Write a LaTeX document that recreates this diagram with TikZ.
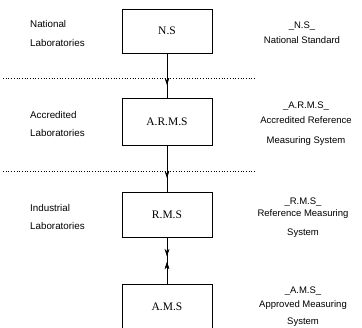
\documentclass[tikz,border=0pt]{standalone}
\usepackage{fontspec}
\setmainfont{Liberation Sans}
\newfontfamily\boxfont{Liberation Serif}
\usetikzlibrary{arrows.meta,decorations.markings}
\begin{document}
\begin{tikzpicture}[x=1pt,y=-1pt,
  stdbox/.style={draw,line width=0.8pt,minimum width=90pt,inner sep=0pt,font=\boxfont\fontsize{11.5}{13}\selectfont},
  lbl/.style={align=left,font=\fontsize{9.8}{18.5}\selectfont,inner sep=0pt},
  rlbl/.style={align=center,font=\fontsize{9.5}{18}\selectfont,inner sep=0pt},
  sep/.style={dotted,line width=0.7pt},
  midarrow/.style={decoration={markings,mark=at position #1 with {\arrow{Stealth[length=7pt,width=4.5pt]}}},postaction={decorate}},
  midback/.style={decoration={markings,mark=at position #1 with {\arrowreversed{Stealth[length=7pt,width=4.5pt]}}},postaction={decorate}},
  conn/.style={line width=0.8pt}]
\useasboundingbox (0,0) rectangle (362,328);
\clip (0,0) rectangle (362,328);
% boxes
\node[stdbox,minimum height=44pt] (ns) at (167,31) {N.S};
\node[stdbox,minimum height=47pt] (arms) at (167,121.5) {A.R.M.S};
\node[stdbox,minimum height=45pt] (rms) at (167,214.5) {R.M.S};
\node[stdbox,minimum height=60pt,anchor=north] (ams) at (167,284) {};
\node[font=\boxfont\fontsize{11.5}{13}\selectfont] (amstext) at (167,307) {A.M.S};
% separators
\coordinate (s1a) at (3,78); \coordinate (s1b) at (256,78);
\coordinate (s2a) at (3,171); \coordinate (s2b) at (256,171);
\draw[sep] (s1a) -- (s1b);
\draw[sep] (s2a) -- (s2b);
% connectors
\draw[conn,midarrow=0.72] (ns.south) -- (arms.north);
\draw[conn,midarrow=0.71] (arms.south) -- (rms.north);
\draw[conn,midarrow=0.40,midback=0.53] (rms.south) -- (ams.north);
% left labels
\node[lbl,anchor=west] (l1) at (30,33.5) {National\\Laboratories};
\node[lbl,anchor=west] (l2) at (30,124) {Accredited\\Laboratories};
\node[lbl,anchor=west] (l3) at (30,217) {Industrial\\Laboratories};
% right labels
\node[rlbl] (r1) at (302,33) {\_N.S\_\\[-3pt]National Standard};
\node[rlbl] (r2) at (306,124) {\_A.R.M.S\_\\[-3pt]Accredited Reference\\[2pt]Measuring System};
\node[rlbl] (r3) at (303,218) {\_R.M.S\_\\[-6pt]Reference Measuring\\[1pt]System};
\node[rlbl] (r4) at (303,307) {\_A.M.S\_\\[-4pt]Approved Measuring\\[-1pt]System};
\end{tikzpicture}
\end{document}
